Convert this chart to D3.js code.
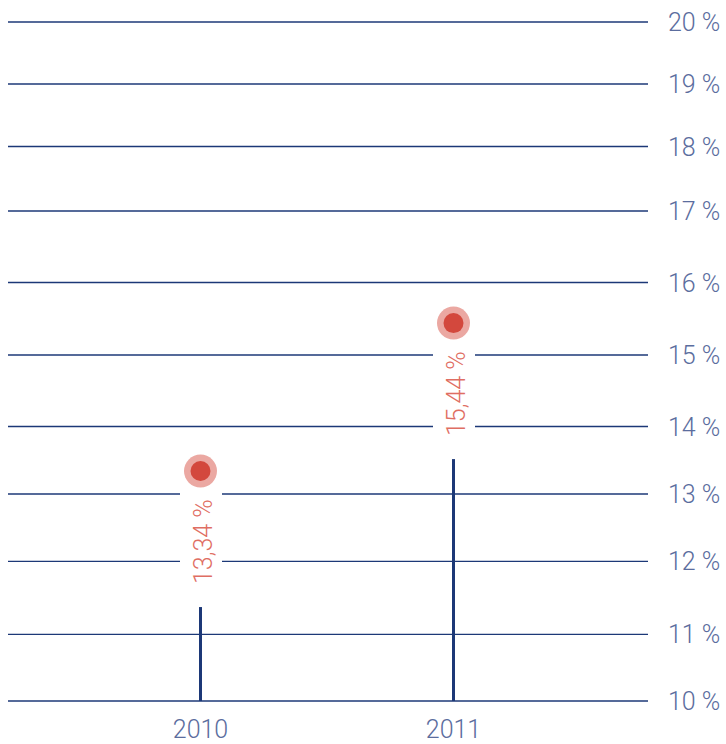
<!DOCTYPE html>
<html>
<head>
<meta charset="utf-8">
<script src="https://cdn.jsdelivr.net/npm/d3@7/dist/d3.min.js"></script>
<style>
  html, body { margin: 0; padding: 0; background: #fff; }
  svg { display: block; }
  text { font-family: Roboto, "Helvetica Neue", Arial, sans-serif; font-weight: 300; }
</style>
</head>
<body>
<svg id="chart" width="726" height="744"></svg>
<script>
// ---- data ----
const years = ["2010", "2011"];
const values = [13.34, 15.44];
const tickValues = [10, 11, 12, 13, 14, 15, 16, 17, 18, 19, 20];
const tickLabels = ["10 %", "11 %", "12 %", "13 %", "14 %", "15 %", "16 %", "17 %", "18 %", "19 %", "20 %"];

// ---- layout (the original axis is unevenly spaced: piecewise scale) ----
const gridPx = [701, 634.3, 561.3, 494, 426.5, 355, 282.5, 211, 146.5, 84, 22];
const gridX0 = 8, gridX1 = 648;

const svg = d3.select("#chart");
const y = d3.scaleLinear().domain(tickValues).range(gridPx);
const x = d3.scalePoint().domain(years).range([200.5, 453.5]);

const gridColor = "#1c3877";
const labelColor = "#5b6d9e";

// gridlines
svg.append("g").selectAll("line").data(tickValues).join("line")
  .attr("x1", gridX0).attr("x2", gridX1)
  .attr("y1", d => y(d)).attr("y2", d => y(d))
  .attr("stroke", gridColor).attr("stroke-width", 1.3);

// y labels
svg.append("g").selectAll("text").data(tickValues).join("text")
  .attr("x", 668).attr("y", d => y(d))
  .attr("dy", "0.36em")
  .attr("font-size", 25)
  .attr("fill", labelColor)
  .text((d, i) => tickLabels[i]);

const data = years.map((yr, i) => ({ yr, v: values[i] }));
const fmt = v => d3.format(".2f")(v).replace(".", ",") + " %";

const g = svg.append("g").selectAll("g").data(data).join("g");

// white gap behind label
g.append("rect")
  .attr("x", d => x(d.yr) - 20.5).attr("width", 42)
  .attr("y", d => y(d.v)).attr("height", 130)
  .attr("fill", "#fff");

// stem
g.append("line")
  .attr("x1", d => x(d.yr)).attr("x2", d => x(d.yr))
  .attr("y1", y(10)).attr("y2", d => y(d.v) + 136)
  .attr("stroke", gridColor).attr("stroke-width", 3);

// dot
g.append("circle")
  .attr("cx", d => x(d.yr)).attr("cy", d => y(d.v)).attr("r", 16.5)
  .attr("fill", "#eba8a2");
g.append("circle")
  .attr("cx", d => x(d.yr)).attr("cy", d => y(d.v)).attr("r", 10)
  .attr("fill", "#d3483d");

// value label (rotated)
g.append("text")
  .attr("transform", d => `translate(${x(d.yr) + 11},${y(d.v) + 113}) rotate(-90)`)
  .attr("font-size", 25)
  .attr("fill", "#df6e63")
  .text(d => fmt(d.v));

// x labels
svg.append("g").selectAll("text").data(years).join("text")
  .attr("x", d => x(d)).attr("y", 738)
  .attr("text-anchor", "middle")
  .attr("font-size", 25)
  .attr("fill", labelColor)
  .text(d => d);
</script>
</body>
</html>
